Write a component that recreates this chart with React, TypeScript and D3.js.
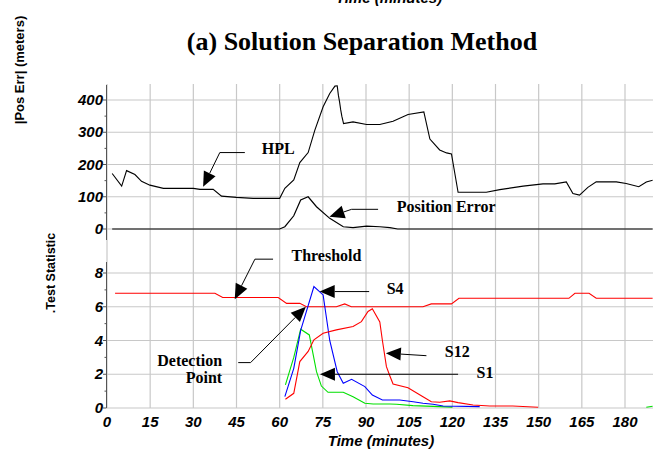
import React from "react";
import * as d3 from "d3";

// Horizontal protection level and position error (meters) over time (minutes)
const hplTime = [1.8, 5.1, 6.8, 9.7, 12, 14.9, 19.6, 30, 32.3, 36.9, 39.8, 45, 50.8, 60, 61.8, 64.9, 67, 69.9, 72.2, 75.1, 77.4, 79.2, 80, 80.4, 80.8, 81.2, 81.6, 82.2, 85.5, 90.2, 94.8, 99.4, 104.6, 110.1, 112.2, 115.6, 118, 119.7, 122, 131.8, 136.5, 144.6, 151.5, 155.6, 159.6, 161.9, 164.2, 167.1, 170, 177, 180.4, 184.8, 187.4, 189.6];
const hplValue = [172, 133, 181, 169, 148, 136, 126, 126, 123, 123, 102, 98, 95, 95, 126, 152, 206, 237, 306, 379, 420, 443, 444, 415, 395, 370, 350, 327, 332, 324, 324, 334, 355, 363, 279, 245, 236, 233, 114, 114, 122, 133, 140, 140, 146, 110, 105, 129, 146, 146, 141, 131, 146, 151];

const posErrTime = [1.8, 60, 61.8, 64.9, 67.3, 69.9, 72.8, 77.4, 82.1, 85.5, 90.2, 94.8, 98.3, 101, 189.6];
const posErrValue = [0, 0, 7, 41, 90, 100, 69, 33, 7, 4, 9, 7, 4, 0, 0];

// Test statistics
const thresholdTime = [2.8, 37.5, 40.2, 59.5, 62.4, 67, 69.3, 79.7, 82.6, 84.9, 109.8, 112.7, 119.7, 122.3, 160.5, 162.6, 167.5, 170, 189.6];
const thresholdValue = [6.8, 6.8, 6.55, 6.55, 6.2, 6.2, 6.0, 6.0, 6.17, 6.0, 6.0, 6.17, 6.17, 6.5, 6.5, 6.8, 6.8, 6.5, 6.5];

const s4Time = [61.8, 64.9, 67.3, 71.9, 75.1, 77.4, 80, 82.1, 85, 89.6, 92.2, 95.7, 101.7, 106.4, 109.8, 113.3, 116.8, 129.5];
const s4Value = [0.67, 2.35, 4.6, 7.2, 6.7, 4.0, 2.15, 1.47, 1.7, 1.27, 0.77, 0.47, 0.47, 0.37, 0.28, 0.22, 0.12, 0.08];

const s12Time = [62, 64.9, 67, 69.9, 71.9, 75.1, 79.7, 85.5, 88.4, 90.7, 92.2, 94.8, 95.7, 97.1, 98.3, 99.4, 104.6, 109.8, 112.7, 115.6, 119.1, 122, 127.2, 133, 141, 149.8];
const s12Value = [0.52, 0.87, 2.75, 3.35, 4.04, 4.43, 4.63, 4.83, 5.12, 5.72, 5.88, 5.1, 4.0, 2.45, 1.9, 1.42, 1.2, 0.67, 0.37, 0.34, 0.42, 0.32, 0.18, 0.12, 0.12, 0.04];

const s1Time = [62, 64.9, 67.3, 70.3, 72.8, 74.5, 76.8, 82.1, 85.5, 89.6, 92.5, 98.3, 100.6, 106.3, 115.6, 120, 150, 187.4, 189.6];
const s1Value: (number | null)[] = [1.37, 3.0, 4.67, 4.33, 2.15, 1.3, 0.93, 0.93, 0.67, 0.28, 0.24, 0.24, 0.22, 0.14, 0.08, 0.05, null, 0.04, 0.1];

const xTicks = [0, 15, 30, 45, 60, 75, 90, 105, 120, 135, 150, 165, 180];
const topTicks = [0, 100, 200, 300, 400];
const bottomTicks = [0, 2, 4, 6, 8];

const W = 653;
const H = 452;
const sans = "'Liberation Sans', Arial, sans-serif";
const serif = "'Liberation Serif', 'Times New Roman', serif";

type Pt = [number, number];

function zip(t: number[], v: (number | null)[]) {
  return t.map((ti, i) => ({ t: ti, v: v[i] }));
}

export default function App() {
  const x = d3.scaleLinear().domain([0, 180]).range([107, 625]);
  const yTop = d3.scaleLinear().domain([0, 400]).range([229, 100]);
  const yBot = d3.scaleLinear().domain([0, 8]).range([408, 273]);

  const lineTop = d3
    .line<{ t: number; v: number | null }>()
    .defined((d) => d.v != null)
    .x((d) => x(d.t))
    .y((d) => yTop(d.v as number));
  const lineBot = d3
    .line<{ t: number; v: number | null }>()
    .defined((d) => d.v != null)
    .x((d) => x(d.t))
    .y((d) => yBot(d.v as number));

  // Leader line + filled arrowhead, positioned in data units
  const arrow = (pts: Pt[], key: string) => {
    const n = pts.length;
    const tip = pts[n - 1];
    const prev = pts[n - 2];
    const dx = tip[0] - prev[0];
    const dy = tip[1] - prev[1];
    const len = Math.hypot(dx, dy);
    const ux = dx / len;
    const uy = dy / len;
    const L = 15;
    const w = 6.5;
    const bx = tip[0] - ux * L;
    const by = tip[1] - uy * L;
    const shaft = [...pts.slice(0, n - 1), [bx, by] as Pt];
    const head = [
      tip,
      [bx - uy * w, by + ux * w],
      [bx + uy * w, by - ux * w],
    ];
    return (
      <g key={key}>
        <polyline
          points={shaft.map((p) => p.join(",")).join(" ")}
          fill="none"
          stroke="#000"
          strokeWidth={1}
        />
        <polygon points={head.map((p) => p.join(",")).join(" ")} fill="#000" />
      </g>
    );
  };

  const pTop = (t: number, v: number): Pt => [x(t), yTop(v)];
  const pBot = (t: number, v: number): Pt => [x(t), yBot(v)];

  const gridColor = "#c8c8c8";
  const annoStyle = { fontFamily: serif, fontWeight: 700, fontSize: 16 } as const;
  const tickStyle = { fontFamily: sans, fontWeight: 700, fontStyle: "italic", fontSize: 15 } as const;

  return (
    <svg
      width={W}
      height={H}
      style={{ position: "absolute", left: 0, top: 0, background: "#fff" }}
    >
      <rect width={W} height={H} fill="#fff" />

      {/* vertical grid spanning both panels */}
      {xTicks.map((t) => (
        <line key={"vg" + t} x1={x(t)} x2={x(t)} y1={84} y2={408} stroke={gridColor} strokeWidth={1.2} />
      ))}
      {/* horizontal grids */}
      {topTicks.map((v) => (
        <line key={"hgt" + v} x1={107} x2={W} y1={yTop(v)} y2={yTop(v)} stroke={gridColor} strokeWidth={1.2} />
      ))}
      {bottomTicks.map((v) => (
        <line key={"hgb" + v} x1={107} x2={W} y1={yBot(v)} y2={yBot(v)} stroke={gridColor} strokeWidth={1.2} />
      ))}

      {/* y axes */}
      <line x1={106.5} x2={106.5} y1={85} y2={240} stroke="#555" strokeWidth={1} />
      <line x1={106.5} x2={106.5} y1={262} y2={408} stroke="#555" strokeWidth={1} />
      {d3.range(0, 450, 50).map((v) => (
        <line key={"tt" + v} x1={v % 100 === 0 ? 103 : 104.5} x2={106.5} y1={yTop(v)} y2={yTop(v)} stroke="#555" />
      ))}
      {d3.range(0, 9, 1).map((v) => (
        <line key={"tb" + v} x1={v % 2 === 0 ? 103 : 104.5} x2={106.5} y1={yBot(v)} y2={yBot(v)} stroke="#555" />
      ))}
      {topTicks.map((v) => (
        <text key={"lt" + v} x={103} y={yTop(v) + 5} textAnchor="end" style={tickStyle}>
          {v}
        </text>
      ))}
      {bottomTicks.map((v) => (
        <text key={"lb" + v} x={103} y={yBot(v) + 5} textAnchor="end" style={tickStyle}>
          {v}
        </text>
      ))}
      {xTicks.map((t) => (
        <text key={"lx" + t} x={x(t)} y={427} textAnchor="middle" style={tickStyle}>
          {t}
        </text>
      ))}

      {/* axis titles; the upper one belongs to a panel above and only its lower edge shows */}
      <text x={381} y={446} textAnchor="middle" style={tickStyle}>
        Time (minutes)
      </text>
      <text x={389} y={3} textAnchor="middle" style={tickStyle}>
        Time (minutes)
      </text>
      <text
        transform="translate(24,70) rotate(-90)"
        textAnchor="middle"
        style={{ fontFamily: sans, fontWeight: 700, fontSize: 13 }}
      >
        |Pos Err| (meters)
      </text>
      <text
        transform="translate(55,273) rotate(-90)"
        textAnchor="middle"
        style={{ fontFamily: sans, fontWeight: 700, fontSize: 12.5 }}
      >
        .Test Statistic
      </text>

      {/* title */}
      <text x={362} y={50} textAnchor="middle" style={{ fontFamily: serif, fontWeight: 700, fontSize: 26 }}>
        (a) Solution Separation Method
      </text>

      {/* top panel series */}
      <path d={lineTop(zip(posErrTime, posErrValue)) || ""} fill="none" stroke="#000" strokeWidth={1.2} />
      <path d={lineTop(zip(hplTime, hplValue)) || ""} fill="none" stroke="#000" strokeWidth={1.1} />

      {/* bottom panel series */}
      <path d={lineBot(zip(thresholdTime, thresholdValue)) || ""} fill="none" stroke="#ff0000" strokeWidth={1.1} />
      <path d={lineBot(zip(s1Time, s1Value)) || ""} fill="none" stroke="#00e000" strokeWidth={1.1} />
      <path d={lineBot(zip(s4Time, s4Value)) || ""} fill="none" stroke="#0000ff" strokeWidth={1.1} />
      <path d={lineBot(zip(s12Time, s12Value)) || ""} fill="none" stroke="#ff0000" strokeWidth={1.1} />

      {/* annotations */}
      {arrow([pTop(47.9, 237), pTop(39.2, 237), pTop(33.4, 131)], "hpl")}
      <text x={x(53.8)} y={yTop(233)} style={annoStyle}>HPL</text>

      {arrow([pTop(94.2, 61), pTop(85, 61), pTop(77.3, 38)], "pe")}
      <text x={x(100.7)} y={yTop(54)} style={annoStyle}>Position Error</text>

      {arrow([pBot(57.7, 8.82), pBot(51.4, 8.82), pBot(44.4, 6.45)], "th")}
      <text x={x(64.1)} y={yBot(8.72)} style={annoStyle}>Threshold</text>

      {arrow([pBot(91.1, 6.9), pBot(73.9, 6.9)], "s4")}
      <text x={x(97.2)} y={yBot(6.78)} style={annoStyle}>S4</text>

      {arrow([pBot(45.6, 2.69), pBot(49.9, 2.69), pBot(69.1, 6.0)], "dp")}
      <text x={x(40)} y={yBot(2.49)} textAnchor="end" style={annoStyle}>Detection</text>
      <text x={x(40)} y={yBot(1.48)} textAnchor="end" style={annoStyle}>Point</text>

      {arrow([pBot(111, 3.1), pBot(96.9, 3.25)], "s12")}
      <text x={x(117.4)} y={yBot(3.03)} style={annoStyle}>S12</text>

      {arrow([pBot(122, 2.0), pBot(74, 2.0)], "s1")}
      <text x={x(128.4)} y={yBot(1.78)} style={annoStyle}>S1</text>
    </svg>
  );
}
